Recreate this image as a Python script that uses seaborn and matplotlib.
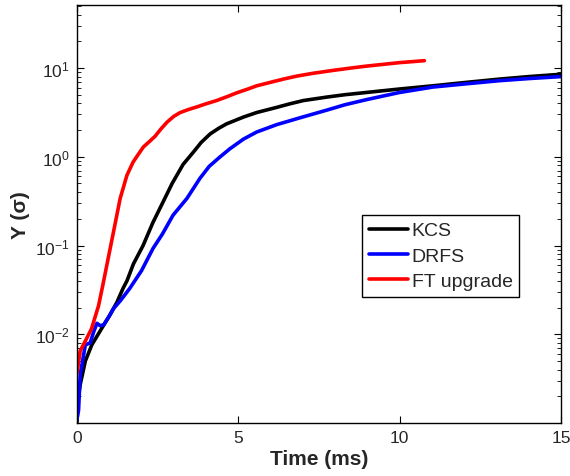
import numpy as np
import pandas as pd
import matplotlib
matplotlib.use("Agg")
import matplotlib.pyplot as plt
from matplotlib.ticker import LogLocator, NullFormatter
import seaborn as sns

# values
kcs_t = [0.0, 0.03, 0.1, 0.26, 0.46, 0.77, 1.0, 1.24, 1.43, 1.55, 1.75, 2.05, 2.35, 2.67,
         2.95, 3.29, 3.61, 3.85, 4.13, 4.4, 4.64, 5.16, 5.57, 6.19, 6.6, 7.02, 7.74, 8.3,
         8.97, 10.0, 11.03, 12.0, 13.1, 14.0, 15.0]
kcs_y = [0.001, 0.0018, 0.0027, 0.005, 0.0076, 0.0117, 0.016, 0.023, 0.033, 0.04, 0.062,
         0.10, 0.18, 0.31, 0.5, 0.82, 1.13, 1.45, 1.81, 2.1, 2.35, 2.8, 3.15, 3.6, 3.95,
         4.3, 4.7, 5.0, 5.3, 5.8, 6.3, 6.85, 7.5, 8.0, 8.5]

drfs_t = [0.0, 0.05, 0.1, 0.26, 0.41, 0.52, 0.62, 0.72, 0.83, 1.0, 1.14, 1.35, 1.64, 2.0,
          2.36, 2.65, 2.98, 3.41, 3.81, 4.1, 4.44, 4.74, 5.16, 5.57, 6.19, 6.9, 7.74, 8.3,
          8.97, 10.0, 11.03, 12.0, 13.1, 14.0, 15.0]
drfs_y = [0.0011, 0.0014, 0.0035, 0.0076, 0.008, 0.0107, 0.0133, 0.0125, 0.0128, 0.016,
          0.0196, 0.024, 0.033, 0.052, 0.093, 0.135, 0.22, 0.34, 0.57, 0.78, 1.0, 1.23,
          1.58, 1.9, 2.3, 2.74, 3.35, 3.85, 4.4, 5.3, 6.1, 6.6, 7.2, 7.6, 8.0]

ft_t = [0.0, 0.1, 0.26, 0.45, 0.67, 0.81, 1.02, 1.12, 1.34, 1.43, 1.55, 1.74, 1.85, 2.06,
        2.26, 2.42, 2.6, 2.79, 3.0, 3.2, 3.45, 3.72, 4.0, 4.33, 4.65, 4.95, 5.3, 5.57,
        6.0, 6.4, 6.81, 7.3, 7.94, 8.5, 8.97, 9.5, 10.0, 10.4, 10.77]
ft_y = [0.0036, 0.0065, 0.0084, 0.0115, 0.021, 0.037, 0.089, 0.135, 0.34, 0.44, 0.62, 0.87,
        1.0, 1.29, 1.5, 1.7, 2.05, 2.45, 2.85, 3.15, 3.4, 3.65, 3.95, 4.3, 4.75, 5.25,
        5.8, 6.3, 6.9, 7.5, 8.1, 8.7, 9.4, 10.0, 10.5, 11.0, 11.5, 11.8, 12.1]

labels = ["KCS", "DRFS", "FT upgrade"]
colors = ["#000000", "#0000ff", "#ff0000"]

frames = []
for name, t, y in zip(labels, [kcs_t, drfs_t, ft_t], [kcs_y, drfs_y, ft_y]):
    frames.append(pd.DataFrame({"t": t, "y": y, "series": name}))
df = pd.concat(frames, ignore_index=True)

sns.set_style("ticks")
plt.rcParams["font.family"] = ["Liberation Sans", "DejaVu Sans"]

fig = plt.figure(figsize=(5.7, 4.77), dpi=100)
ax = fig.add_axes([0.135, 0.111, 0.849, 0.876])

sns.lineplot(data=df, x="t", y="y", hue="series", palette=colors, hue_order=labels,
             estimator=None, sort=False, linewidth=2.6, ax=ax)

ax.set_yscale("log")
ax.set_xlim(0, 15)
ax.set_ylim(1e-3, 51)
ax.set_xticks([0, 5, 10, 15])
ax.yaxis.set_minor_locator(LogLocator(base=10, subs=np.arange(2, 10), numticks=20))
ax.yaxis.set_minor_formatter(NullFormatter())
ax.set_yticks([1e-2, 1e-1, 1e0, 1e1])

ax.tick_params(which="both", direction="in", top=True, right=True, labelsize=12.5,
               color="black", pad=5)
ax.tick_params(which="major", length=5, width=0.8)
ax.tick_params(which="minor", length=3, width=0.6)
for s in ax.spines.values():
    s.set_linewidth(1.0)
    s.set_color("black")

ax.set_xlabel("Time (ms)", fontsize=15, fontweight="bold", labelpad=3)
ax.set_ylabel("Y (σ)", fontsize=15, fontweight="bold", labelpad=4)

leg = ax.legend(loc="upper left", bbox_to_anchor=(0.589, 0.498), fontsize=14,
                frameon=True, fancybox=False, edgecolor="black", framealpha=1,
                handlelength=2.0, handletextpad=0.2, borderpad=0.35, labelspacing=0.4,
                borderaxespad=0)
leg.get_frame().set_linewidth(1.0)

fig.savefig("out.png", dpi=100)
